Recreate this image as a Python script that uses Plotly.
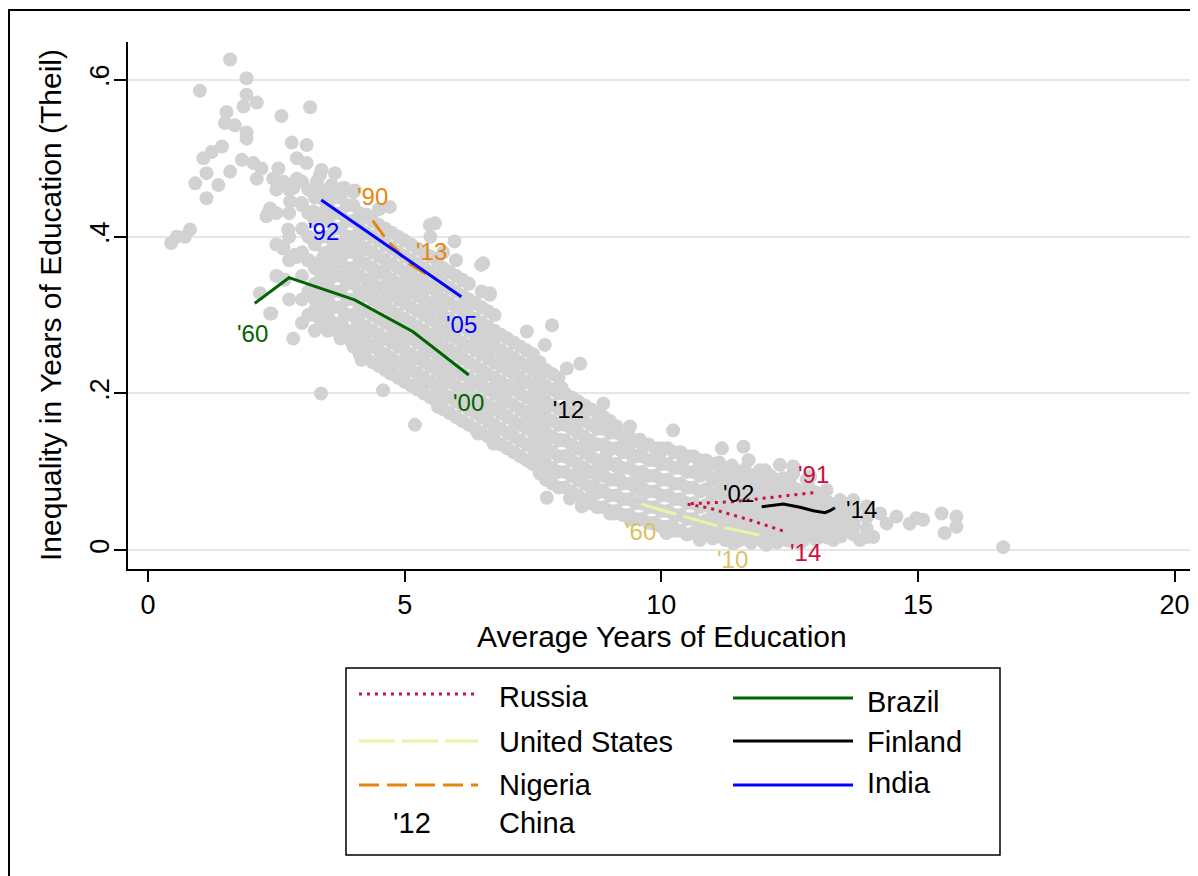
import plotly.graph_objects as go

# ---------------- data ----------------
# grey cloud: country-year observations (average years, Theil)
cloud_upper = [
    (1.60, 0.626), (1.92, 0.602), (1.01, 0.586), (1.92, 0.581), (2.12, 0.571), (1.86, 0.566),
    (1.53, 0.559), (2.60, 0.554), (3.16, 0.565), (1.50, 0.545), (1.69, 0.542), (1.92, 0.533),
    (1.92, 0.525), (2.80, 0.520), (3.09, 0.517), (1.44, 0.515), (1.24, 0.508), (1.08, 0.500),
    (1.83, 0.498), (2.05, 0.494), (2.90, 0.500), (3.09, 0.494), (2.21, 0.487), (2.54, 0.487),
    (1.60, 0.483), (1.14, 0.481), (0.92, 0.468), (1.37, 0.466), (1.14, 0.449), (2.12, 0.474),
    (2.44, 0.474), (2.64, 0.470), (2.90, 0.474), (2.83, 0.462), (3.35, 0.479), (3.64, 0.481),
    (3.29, 0.470), (3.58, 0.466), (3.80, 0.462), (4.00, 0.457), (2.77, 0.445), (2.99, 0.443),
    (3.38, 0.449), (3.22, 0.432), (2.38, 0.436), (2.31, 0.426), (3.71, 0.453), (4.26, 0.428),
    (4.71, 0.438), (2.73, 0.409), (0.82, 0.409), (0.56, 0.400), (0.45, 0.392), (0.72, 0.400),
    (3.38, 0.485), (3.83, 0.462), (4.03, 0.459), (4.25, 0.428), (5.59, 0.417), (5.49, 0.415),
    (5.97, 0.394), (6.49, 0.364), (6.66, 0.326), (2.63, 0.385), (2.34, 0.430), (2.86, 0.377),
    (3.12, 0.370), (3.44, 0.379), (3.77, 0.383), (4.09, 0.385), (3.64, 0.366), (4.03, 0.353),
    (4.42, 0.353), (4.61, 0.358), (5.13, 0.358), (5.32, 0.345), (4.42, 0.332), (4.87, 0.328),
    (5.07, 0.328), (5.45, 0.311), (4.61, 0.315), (3.25, 0.306), (3.51, 0.311), (3.83, 0.302),
    (2.66, 0.345), (2.53, 0.349), (2.40, 0.302), (6.10, 0.309), (6.27, 0.315),
]
cloud_mid = [
    (2.64, 0.387), (2.90, 0.374), (3.61, 0.370), (3.94, 0.383), (4.13, 0.370), (4.00, 0.353),
    (4.33, 0.332), (4.58, 0.336), (4.85, 0.332), (5.10, 0.341), (5.36, 0.332), (5.62, 0.341),
    (6.53, 0.366), (6.66, 0.328), (2.18, 0.328), (2.38, 0.302), (2.83, 0.270), (3.29, 0.306),
    (3.42, 0.294), (3.80, 0.285), (4.07, 0.294), (3.94, 0.268), (4.26, 0.277), (4.19, 0.255),
    (4.45, 0.260), (4.58, 0.243), (4.78, 0.277), (4.97, 0.264), (4.71, 0.226), (5.04, 0.243),
    (5.36, 0.247), (5.62, 0.234), (5.49, 0.264), (5.75, 0.260), (5.88, 0.277), (6.01, 0.251),
    (6.40, 0.268), (6.66, 0.255), (6.53, 0.226), (4.58, 0.204), (3.37, 0.200), (5.23, 0.226),
    (5.62, 0.209), (5.88, 0.217), (6.27, 0.209), (6.79, 0.209), (5.20, 0.160), (5.65, 0.183),
    (6.43, 0.149), (6.75, 0.153), (3.64, 0.281), (4.03, 0.260), (4.16, 0.243), (4.48, 0.264),
    (4.74, 0.234), (4.93, 0.272), (5.00, 0.226), (5.32, 0.209), (6.49, 0.217), (6.62, 0.175),
    (6.75, 0.272), (6.62, 0.260), (6.88, 0.238), (6.95, 0.204),
]
cloud_low = [
    (5.43, 0.306), (6.53, 0.277), (6.79, 0.277), (7.38, 0.279), (7.87, 0.287), (7.73, 0.262),
    (7.51, 0.243), (7.12, 0.228), (8.16, 0.232), (8.42, 0.238), (8.06, 0.207), (7.25, 0.213),
    (7.64, 0.209), (5.30, 0.209), (5.69, 0.187), (6.21, 0.200), (6.47, 0.183), (6.86, 0.183),
    (7.05, 0.149), (7.51, 0.183), (7.38, 0.166), (7.77, 0.141), (7.64, 0.162), (8.03, 0.141),
    (8.29, 0.158), (8.55, 0.179), (8.87, 0.187), (8.81, 0.162), (9.13, 0.158), (9.39, 0.158),
    (9.58, 0.141), (9.33, 0.132), (8.94, 0.124), (8.55, 0.132), (8.16, 0.119), (7.51, 0.115),
    (7.77, 0.098), (8.42, 0.098), (8.81, 0.102), (9.13, 0.107), (9.45, 0.119), (9.58, 0.090),
    (8.68, 0.081), (7.77, 0.067), (6.73, 0.136), (10.23, 0.153), (11.18, 0.130), (11.60, 0.132),
    (11.70, 0.115), (12.02, 0.102), (12.31, 0.109), (12.57, 0.107), (12.90, 0.094), (8.22, 0.066),
    (8.45, 0.056), (7.44, 0.113), (7.64, 0.098), (8.74, 0.073), (9.07, 0.047), (9.39, 0.039),
    (9.84, 0.034), (10.23, 0.030), (10.69, 0.022), (11.01, 0.017), (11.53, 0.022), (12.05, 0.013),
    (12.44, 0.013), (13.09, 0.017), (13.48, 0.022), (13.74, 0.030),
]
cloud_right = [
    (13.74, 0.064), (14.00, 0.056), (14.26, 0.047), (14.39, 0.034), (14.58, 0.043), (14.84, 0.034),
    (14.97, 0.041), (15.10, 0.039), (15.46, 0.047), (15.75, 0.043), (15.75, 0.030), (15.52, 0.022),
    (16.66, 0.004), (14.13, 0.017), (13.87, 0.013), (9.97, 0.124), (10.43, 0.115), (10.75, 0.111),
    (11.92, 0.102), (12.57, 0.098), (12.83, 0.090), (13.22, 0.077), (13.48, 0.064), (9.00, 0.047),
    (10.10, 0.022), (10.75, 0.013), (11.40, 0.009), (12.05, 0.007), (12.70, 0.009), (13.35, 0.013),
    (14.00, 0.017), (8.87, 0.111), (8.81, 0.077), (9.19, 0.090), (9.58, 0.077),
]
# dense core of the cloud, column by column (x, list of y)
band_x = [2.5, 2.75, 3.0, 3.25, 3.5, 3.75, 4.0, 4.25, 4.5, 4.75, 5.0, 5.25, 5.5, 5.75, 6.0,
          6.25, 6.5, 6.75, 7.0, 7.25, 7.5, 7.75, 8.0, 8.25, 8.5, 8.75, 9.0, 9.25, 9.5, 9.75,
          10.0, 10.25, 10.5, 10.75, 11.0, 11.25, 11.5, 11.75, 12.0, 12.25, 12.5, 12.75, 13.0,
          13.25, 13.5, 13.75, 14.0]
band_y = [
    [0.35, 0.39, 0.43, 0.46],
    [0.32, 0.37, 0.40, 0.43, 0.46],
    [0.29, 0.32, 0.35, 0.38, 0.41, 0.44, 0.47],
    [0.28, 0.30, 0.32, 0.34, 0.36, 0.39, 0.42, 0.45],
    [0.28, 0.30, 0.32, 0.34, 0.36, 0.38, 0.40, 0.42, 0.44, 0.46],
    [0.27, 0.29, 0.31, 0.33, 0.35, 0.37, 0.39, 0.41, 0.43, 0.45],
    [0.26, 0.28, 0.30, 0.32, 0.34, 0.36, 0.38, 0.40, 0.42, 0.44],
    [0.245, 0.265, 0.285, 0.305, 0.325, 0.345, 0.365, 0.385, 0.405, 0.425],
    [0.235, 0.255, 0.275, 0.295, 0.315, 0.335, 0.355, 0.375, 0.395, 0.415, 0.435],
    [0.225, 0.245, 0.265, 0.285, 0.305, 0.325, 0.345, 0.365, 0.385, 0.405],
    [0.215, 0.235, 0.255, 0.275, 0.295, 0.315, 0.335, 0.355, 0.375, 0.395],
    [0.205, 0.225, 0.245, 0.265, 0.285, 0.305, 0.325, 0.345, 0.365, 0.385],
    [0.195, 0.215, 0.235, 0.255, 0.275, 0.295, 0.315, 0.335, 0.355, 0.375, 0.40],
    [0.18, 0.20, 0.22, 0.24, 0.26, 0.28, 0.30, 0.32, 0.34, 0.36, 0.38],
    [0.17, 0.19, 0.21, 0.23, 0.25, 0.27, 0.29, 0.31, 0.33, 0.35, 0.37],
    [0.16, 0.18, 0.20, 0.22, 0.24, 0.26, 0.28, 0.30, 0.32, 0.34],
    [0.15, 0.17, 0.19, 0.21, 0.23, 0.25, 0.27, 0.29, 0.31, 0.33],
    [0.14, 0.16, 0.18, 0.20, 0.22, 0.24, 0.26, 0.28, 0.30],
    [0.13, 0.15, 0.17, 0.19, 0.21, 0.23, 0.25, 0.27],
    [0.12, 0.14, 0.16, 0.18, 0.20, 0.22, 0.24, 0.26],
    [0.11, 0.13, 0.15, 0.17, 0.19, 0.21, 0.23, 0.25],
    [0.09, 0.11, 0.13, 0.15, 0.17, 0.19, 0.21, 0.23],
    [0.08, 0.10, 0.12, 0.14, 0.16, 0.18, 0.20, 0.22],
    [0.075, 0.095, 0.115, 0.135, 0.155, 0.175, 0.195],
    [0.065, 0.085, 0.105, 0.125, 0.145, 0.165, 0.185],
    [0.055, 0.075, 0.095, 0.115, 0.135, 0.155, 0.175],
    [0.05, 0.07, 0.09, 0.11, 0.13, 0.15, 0.165],
    [0.045, 0.065, 0.085, 0.105, 0.125, 0.145],
    [0.04, 0.06, 0.08, 0.10, 0.12, 0.14],
    [0.035, 0.055, 0.075, 0.095, 0.115, 0.135],
    [0.03, 0.05, 0.07, 0.09, 0.11, 0.13],
    [0.025, 0.045, 0.065, 0.085, 0.105, 0.125],
    [0.02, 0.04, 0.06, 0.08, 0.10, 0.12],
    [0.018, 0.035, 0.055, 0.075, 0.095, 0.115],
    [0.015, 0.032, 0.05, 0.07, 0.09, 0.11],
    [0.013, 0.03, 0.048, 0.066, 0.085, 0.105],
    [0.012, 0.028, 0.045, 0.063, 0.082, 0.10],
    [0.01, 0.026, 0.043, 0.06, 0.078, 0.095],
    [0.01, 0.025, 0.042, 0.058, 0.075, 0.092],
    [0.01, 0.025, 0.04, 0.056, 0.072, 0.09],
    [0.012, 0.027, 0.042, 0.057, 0.072, 0.087],
    [0.012, 0.027, 0.042, 0.057, 0.072],
    [0.014, 0.029, 0.044, 0.059, 0.074],
    [0.016, 0.031, 0.046, 0.061],
    [0.018, 0.033, 0.048],
    [0.02, 0.035, 0.05],
    [0.028, 0.042],
]
# in-between columns of the dense core
band2_x = [3.125, 3.375, 3.625, 3.875, 4.125, 4.375, 4.625, 4.875, 5.125, 5.375, 5.625,
           5.875, 6.125, 6.375, 6.625, 6.875, 7.125, 7.375, 7.625, 7.875, 8.125, 8.375,
           8.625, 8.875, 9.125, 9.375, 9.625, 9.875, 10.125, 10.375, 10.625, 10.875,
           11.125, 11.375, 11.625, 11.875, 12.125, 12.375, 12.625, 12.875, 13.125, 13.375,
           13.625]
band2_y = [
    [0.30, 0.33, 0.37, 0.40, 0.43, 0.46],
    [0.29, 0.31, 0.33, 0.35, 0.37, 0.40, 0.43, 0.46],
    [0.29, 0.31, 0.33, 0.35, 0.37, 0.39, 0.41, 0.43, 0.45],
    [0.28, 0.30, 0.32, 0.34, 0.36, 0.38, 0.40, 0.42, 0.44],
    [0.25, 0.27, 0.29, 0.31, 0.33, 0.35, 0.37, 0.39, 0.41, 0.43],
    [0.24, 0.26, 0.28, 0.30, 0.32, 0.34, 0.36, 0.38, 0.40, 0.42],
    [0.23, 0.25, 0.27, 0.29, 0.31, 0.33, 0.35, 0.37, 0.39, 0.41],
    [0.22, 0.24, 0.26, 0.28, 0.30, 0.32, 0.34, 0.36, 0.38, 0.40],
    [0.21, 0.23, 0.25, 0.27, 0.29, 0.31, 0.33, 0.35, 0.37, 0.39],
    [0.20, 0.22, 0.24, 0.26, 0.28, 0.30, 0.32, 0.34, 0.36, 0.38],
    [0.19, 0.21, 0.23, 0.25, 0.27, 0.29, 0.31, 0.33, 0.35, 0.37],
    [0.175, 0.195, 0.215, 0.235, 0.255, 0.275, 0.295, 0.315, 0.335, 0.355],
    [0.165, 0.185, 0.205, 0.225, 0.245, 0.265, 0.285, 0.305, 0.325, 0.345],
    [0.155, 0.175, 0.195, 0.215, 0.235, 0.255, 0.275, 0.295, 0.315],
    [0.145, 0.165, 0.185, 0.205, 0.225, 0.245, 0.265, 0.285, 0.305],
    [0.135, 0.155, 0.175, 0.195, 0.215, 0.235, 0.255, 0.275],
    [0.125, 0.145, 0.165, 0.185, 0.205, 0.225, 0.245, 0.265],
    [0.115, 0.135, 0.155, 0.175, 0.195, 0.215, 0.235, 0.255],
    [0.10, 0.12, 0.14, 0.16, 0.18, 0.20, 0.22, 0.24],
    [0.085, 0.105, 0.125, 0.145, 0.165, 0.185, 0.205, 0.225],
    [0.08, 0.10, 0.12, 0.14, 0.16, 0.18, 0.20],
    [0.07, 0.09, 0.11, 0.13, 0.15, 0.17, 0.19],
    [0.06, 0.08, 0.10, 0.12, 0.14, 0.16, 0.18],
    [0.055, 0.075, 0.095, 0.115, 0.135, 0.155, 0.17],
    [0.05, 0.07, 0.09, 0.11, 0.13, 0.15],
    [0.045, 0.065, 0.085, 0.105, 0.125, 0.145],
    [0.04, 0.06, 0.08, 0.10, 0.12, 0.135],
    [0.035, 0.055, 0.075, 0.095, 0.115, 0.13],
    [0.03, 0.05, 0.07, 0.09, 0.11, 0.13],
    [0.025, 0.045, 0.065, 0.085, 0.105, 0.125],
    [0.022, 0.04, 0.06, 0.08, 0.10, 0.12],
    [0.02, 0.038, 0.058, 0.078, 0.098, 0.115],
    [0.018, 0.036, 0.055, 0.075, 0.095, 0.112],
    [0.016, 0.034, 0.053, 0.072, 0.09, 0.108],
    [0.015, 0.033, 0.05, 0.068, 0.086, 0.103],
    [0.015, 0.032, 0.05, 0.066, 0.083, 0.098],
    [0.015, 0.032, 0.048, 0.064, 0.08, 0.095],
    [0.016, 0.032, 0.047, 0.063, 0.078, 0.092],
    [0.018, 0.033, 0.048, 0.063, 0.078],
    [0.02, 0.035, 0.05, 0.065, 0.08],
    [0.022, 0.037, 0.052, 0.067],
    [0.024, 0.039, 0.054],
    [0.026, 0.04, 0.055],
]

# country trajectories
russia_x = [12.961, 11.397, 10.495, 10.949, 11.728, 12.377]
russia_y = [0.0735, 0.0620, 0.0591, 0.0536, 0.0386, 0.0246]
us_x = [9.618, 11.144, 11.909]
us_y = [0.0587, 0.0301, 0.0195]
nigeria_x = [4.378, 4.650, 4.845, 5.040, 5.235, 5.527]
nigeria_y = [0.4204, 0.3958, 0.3830, 0.3680, 0.3597, 0.3482]
brazil_x = [2.079, 2.747, 4.027, 5.163, 6.248]
brazil_y = [0.3151, 0.3477, 0.3193, 0.2788, 0.2236]
finland_x = [11.956, 12.377, 12.702, 12.961, 13.189, 13.286, 13.383]
finland_y = [0.0556, 0.0591, 0.0548, 0.0505, 0.0480, 0.0505, 0.0543]
india_x = [3.376, 6.104]
india_y = [0.4468, 0.3235]
china_x = [8.19]
china_y = [0.177]

# year labels: (first, last)
russia_years = ("'91", "'14")
us_years = ("'60", "'10")
nigeria_years = ("'90", "'13")
brazil_years = ("'60", "'00")
finland_years = ("'02", "'14")
india_years = ("'92", "'05")
china_year = "'12"

x_ticks = [0, 5, 10, 15, 20]
y_ticks = [0, 0.2, 0.4, 0.6]
y_ticktext = ["0", ".2", ".4", ".6"]

# ---------------- styling ----------------
FONT = "Arial, 'Liberation Sans', sans-serif"
GREY = "#d2d2d2"
C_RUS = "#cc1040"
C_US_LINE = "#e8f5a3"
C_US_TXT = "#dcc35f"
C_NGA = "#e8850f"
C_BRA = "#006400"
C_FIN = "#000000"
C_IND = "#0000ff"

cx, cy = [], []
for pts in (cloud_upper, cloud_mid, cloud_low, cloud_right):
    for px, py in pts:
        cx.append(px)
        cy.append(py)
for xs_, ys_ in ((band_x, band_y), (band2_x, band2_y)):
    for bx, ys in zip(xs_, ys_):
        for by in ys:
            cx.append(bx)
            cy.append(by)

fig = go.Figure()
fig.add_trace(go.Scatter(x=cx, y=cy, mode="markers",
                         marker=dict(size=14, color=GREY, line=dict(width=0)),
                         hoverinfo="skip"))

series = [
    (russia_x, russia_y, C_RUS, "3px,5px", C_RUS, russia_years, (0, 18), (22, -21)),
    (us_x, us_y, C_US_LINE, "36px,7px", C_US_TXT, us_years, (-1, -27), (-27, -24)),
    (nigeria_x, nigeria_y, C_NGA, "20px,8px", C_NGA, nigeria_years, (0, 24), (0, 26)),
    (brazil_x, brazil_y, C_BRA, "solid", C_BRA, brazil_years, (-2, -30), (0, -28)),
    (finland_x, finland_y, C_FIN, "solid", C_FIN, finland_years, (-23, 13), (27, -2)),
    (india_x, india_y, C_IND, "solid", C_IND, india_years, (2, -32), (0, -28)),
]
annotations = []
for xs, ys, lc, dash, tc, yrs, s0, s1 in series:
    fig.add_trace(go.Scatter(x=xs, y=ys, mode="lines",
                             line=dict(color=lc, width=3, dash=dash),
                             hoverinfo="skip"))
    for (px, py), lab, sh in (((xs[0], ys[0]), yrs[0], s0), ((xs[-1], ys[-1]), yrs[1], s1)):
        annotations.append(dict(x=px, y=py, xref="x", yref="y", text=lab, showarrow=False,
                                xshift=sh[0], yshift=sh[1],
                                font=dict(family=FONT, size=24, color=tc)))

fig.add_trace(go.Scatter(x=china_x, y=china_y, mode="text", text=[china_year],
                         textposition="middle center",
                         textfont=dict(family=FONT, size=24, color="black"),
                         hoverinfo="skip"))

# ---------------- layout geometry (page pixels -> paper) ----------------
OFF = 8                      # page margin in front of the figure
L, T, R, B = 128, 42, 1197, 569   # plot area in page pixels
W, H = R - L, B - T
FIG_W, FIG_H = 1190, 868


def px_x(p):
    return (p - L) / W


def px_y(p):
    return (B - p) / H


shapes = [
    # outer graph-region frame
    dict(type="rect", xref="paper", yref="paper", x0=px_x(9), x1=px_x(1215),
         y0=px_y(900), y1=px_y(10), line=dict(color="black", width=2)),
    # legend box
    dict(type="rect", xref="paper", yref="paper", x0=px_x(346), x1=px_x(1000),
         y0=px_y(855), y1=px_y(668), line=dict(color="black", width=1.5)),
]
legend_left = [("Russia", C_RUS, "3px,5px", 694, 697),
               ("United States", C_US_LINE, "36px,7px", 741, 742),
               ("Nigeria", C_NGA, "20px,8px", 785, 785)]
legend_right = [("Brazil", C_BRA, "solid", 698, 702),
                ("Finland", C_FIN, "solid", 741, 742),
                ("India", C_IND, "solid", 785, 783)]
for items, lx0, lx1, tx in ((legend_left, 359, 478, 497), (legend_right, 733, 853, 865)):
    for name, col, dash, ly, ty in items:
        shapes.append(dict(type="line", xref="paper", yref="paper", x0=px_x(lx0), x1=px_x(lx1),
                           y0=px_y(ly), y1=px_y(ly), line=dict(color=col, width=3, dash=dash)))
        annotations.append(dict(x=px_x(tx), y=px_y(ty), xref="paper", yref="paper", text=name,
                                showarrow=False, xanchor="left", yanchor="middle",
                                font=dict(family=FONT, size=29, color="black")))
annotations.append(dict(x=px_x(412), y=px_y(823), xref="paper", yref="paper", text=china_year,
                        showarrow=False, xanchor="center", yanchor="middle",
                        font=dict(family=FONT, size=29, color="black")))
annotations.append(dict(x=px_x(497), y=px_y(823), xref="paper", yref="paper", text="China",
                        showarrow=False, xanchor="left", yanchor="middle",
                        font=dict(family=FONT, size=29, color="black")))
# axis titles
annotations.append(dict(x=px_x(662), y=px_y(636), xref="paper", yref="paper",
                        text="Average Years of Education", showarrow=False,
                        xanchor="center", yanchor="middle",
                        font=dict(family=FONT, size=30, color="black")))
annotations.append(dict(x=px_x(50), y=px_y(305), xref="paper", yref="paper",
                        text="Inequality in Years of Education (Theil)", showarrow=False,
                        textangle=-90, xanchor="center", yanchor="middle",
                        font=dict(family=FONT, size=30, color="black")))

fig.update_layout(
    width=FIG_W, height=FIG_H, autosize=False,
    margin=dict(l=L - OFF, r=FIG_W - (R - OFF), t=T - OFF, b=FIG_H - (B - OFF), pad=0),
    plot_bgcolor="white", paper_bgcolor="white",
    showlegend=False,
    font=dict(family=FONT, color="black"),
    xaxis=dict(range=[-0.3896, 20.436], tickvals=x_ticks, ticks="outside", ticklen=11,
               tickwidth=2, tickcolor="black", showline=True, linecolor="black", linewidth=2,
               showgrid=False, zeroline=False, tickfont=dict(family=FONT, size=27, color="black")),
    yaxis=dict(range=[-0.02385, 0.6483], tickvals=y_ticks, ticktext=y_ticktext, tickangle=-90,
               ticks="outside", ticklen=12, tickwidth=2, tickcolor="black", showline=True,
               linecolor="black", linewidth=2, showgrid=True, gridcolor="#e6e6e6", gridwidth=2,
               zeroline=False, ticklabelstandoff=-6,
               tickfont=dict(family=FONT, size=27, color="black")),
    shapes=shapes,
    annotations=annotations,
)

fig.write_html("out.html")
